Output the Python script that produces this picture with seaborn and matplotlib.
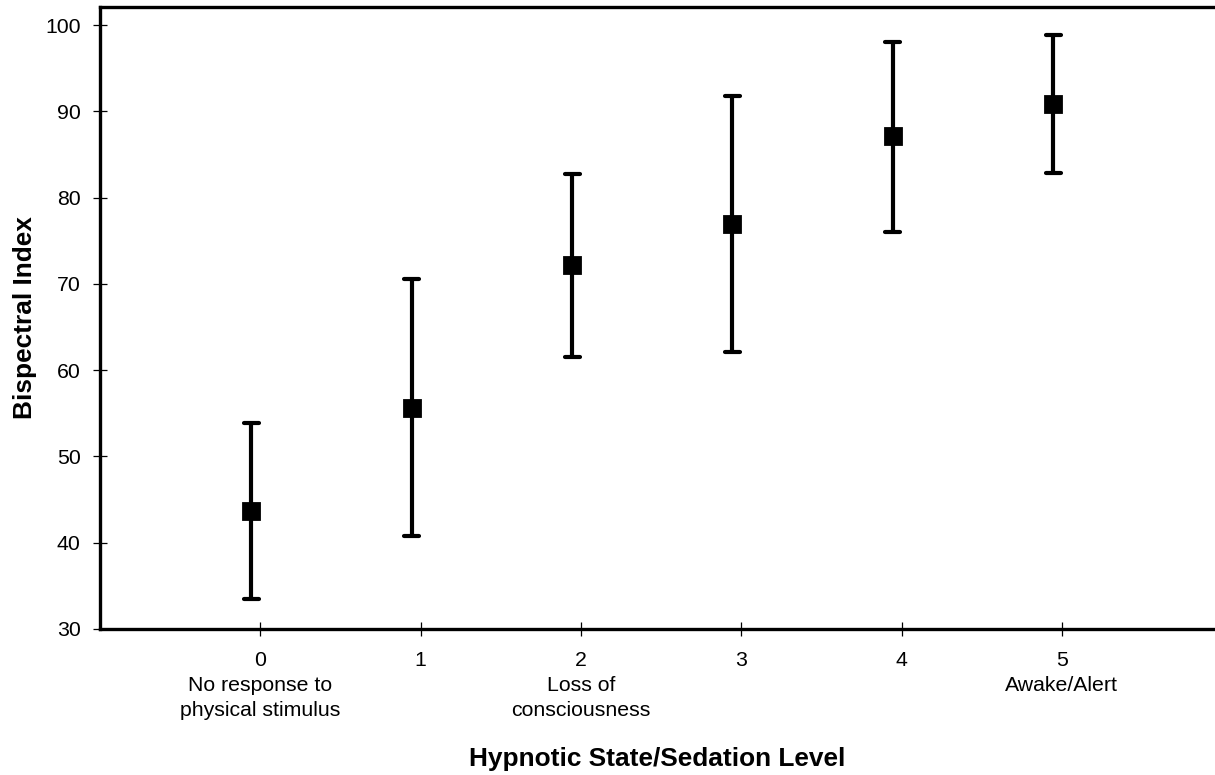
import numpy as np
import pandas as pd
import matplotlib
matplotlib.use("Agg")
import matplotlib.pyplot as plt
import seaborn as sns

# ---- data ----
levels = [0, 1, 2, 3, 4, 5]
level_names = ["No response to\nphysical stimulus", "", "Loss of\nconsciousness", "", "", "Awake/Alert"]
bis_mean = [43.7, 55.6, 72.2, 76.9, 87.1, 90.8]
bis_lower = [33.5, 40.8, 61.5, 62.1, 76.0, 82.8]
bis_upper = [53.9, 70.6, 82.7, 91.8, 98.0, 98.8]
y_ticks = [30, 40, 50, 60, 70, 80, 90, 100]

sns.set_style("white", {"xtick.bottom": True, "ytick.left": True})
plt.rcParams["font.family"] = ["Liberation Sans", "DejaVu Sans"]
plt.rcParams["text.color"] = "black"
plt.rcParams["axes.labelcolor"] = "black"
plt.rcParams["xtick.color"] = "black"
plt.rcParams["ytick.color"] = "black"

# long-form table: each level has (lower, mean, upper); median -> mean, min/max -> interval
x_shift = -0.055
rows = []
for lv, lo, m, hi in zip(levels, bis_lower, bis_mean, bis_upper):
    for v in (lo, m, hi):
        rows.append({"level": lv + x_shift, "bis": v})
df = pd.DataFrame(rows)

fig = plt.figure(figsize=(12.15, 7.75), dpi=100)
ax = fig.add_axes([0.0823, 0.1884, 0.9177, 0.8026])

sns.pointplot(
    data=df, x="level", y="bis", native_scale=True,
    estimator=np.median, errorbar=lambda v: (v.min(), v.max()),
    color="black", markers="s", linestyles="none",
    capsize=0.094, err_kws={"linewidth": 3.0},
    markersize=11.5, ax=ax,
)

ax.set_xlim(-1.0, 5.955)
ax.set_ylim(30, 102.1)
ax.set_yticks(y_ticks)
ax.set_yticklabels([str(t) for t in y_ticks], fontsize=15.3)
ax.set_xticks(levels)
ax.set_xticklabels(
    [f"{lv}\n{name}" if name else f"{lv}" for lv, name in zip(levels, level_names)],
    fontsize=15.3, va="top", linespacing=1.42,
)
for lab in ax.get_xticklabels():
    lab.set_multialignment("center")

ax.tick_params(axis="both", direction="inout", length=10, width=0.9, color="black",
               bottom=True, left=True, top=False, right=False)
ax.tick_params(axis="y", pad=9)
ax.tick_params(axis="x", pad=10.5)

for side in ["left", "bottom", "top"]:
    ax.spines[side].set_visible(True)
    ax.spines[side].set_linewidth(2.4)
    ax.spines[side].set_color("black")
ax.spines["right"].set_visible(False)

ax.set_xlabel("Hypnotic State/Sedation Level", fontsize=18.9, fontweight="bold", labelpad=19)
ax.set_ylabel("Bispectral Index", fontsize=18.9, fontweight="bold", labelpad=5.5)

fig.savefig("out.png", dpi=100)
